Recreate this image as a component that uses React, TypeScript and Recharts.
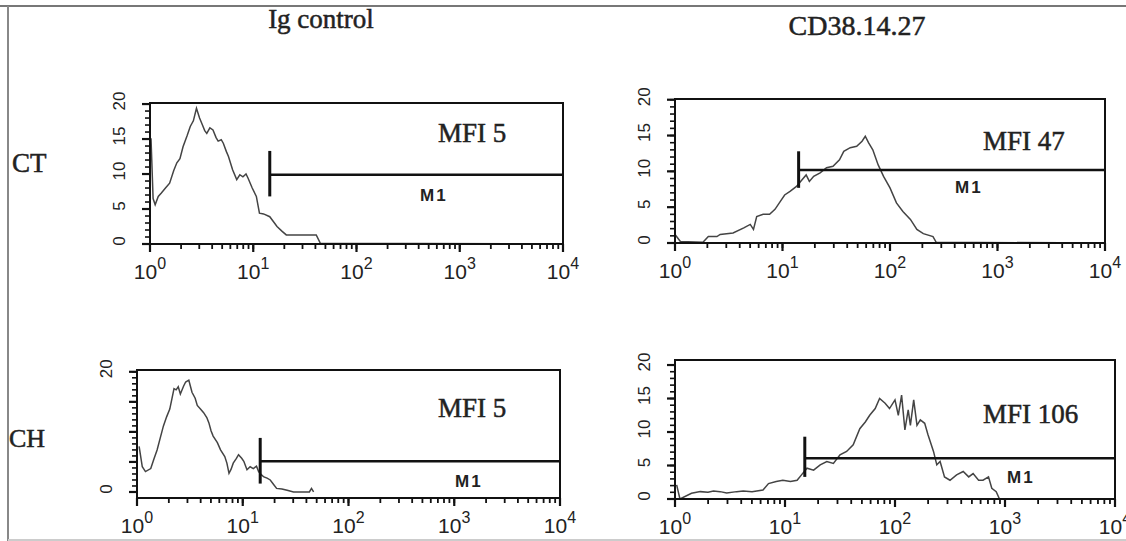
import React from 'react';
import { LineChart, Line, XAxis, YAxis, ReferenceArea, ReferenceLine } from 'recharts';

// x values are decade positions (log10 of fluorescence), y values are counts
const decades = [0, 1, 2, 3, 4];
const minorMultipliers = [2, 3, 4, 5, 6, 7, 8, 9];
const countLabels = [0, 5, 10, 15, 20];
const countLabelsSparse = [0, 20];

const ctIgLog = [0, 0.01, 0.03, 0.05, 0.08, 0.11, 0.15, 0.19, 0.23, 0.26, 0.29, 0.32, 0.36, 0.39, 0.42, 0.45, 0.48, 0.5, 0.53, 0.55, 0.58, 0.61, 0.64, 0.66, 0.69, 0.71, 0.74, 0.76, 0.8, 0.84, 0.87, 0.9, 0.93, 0.95, 0.99, 1.03, 1.06, 1.1, 1.16, 1.2, 1.23, 1.28, 1.32, 1.4, 1.5, 1.61, 1.65, 4];
const ctIgCount = [15, 15, 6.5, 5.6, 6.8, 7.3, 8.0, 8.7, 10.5, 11.6, 12.2, 13.9, 15.5, 16.8, 17.6, 19.4, 18.0, 17.3, 16.2, 15.8, 16.6, 16.3, 15.2, 14.7, 14.9, 14.4, 13.2, 12.5, 10.6, 9.2, 9.9, 9.6, 10.0, 9.4, 8.0, 6.8, 4.4, 4.3, 3.9, 3.1, 2.5, 1.8, 1.3, 1.3, 1.3, 1.3, 0.1, 0];

const ctCdLog = [0, 0.05, 0.26, 0.31, 0.39, 0.42, 0.54, 0.64, 0.7, 0.73, 0.76, 0.82, 0.88, 0.93, 0.98, 1.02, 1.07, 1.13, 1.18, 1.22, 1.25, 1.29, 1.35, 1.41, 1.47, 1.53, 1.57, 1.63, 1.69, 1.74, 1.77, 1.8, 1.84, 1.89, 1.94, 2.0, 2.06, 2.12, 2.19, 2.25, 2.31, 2.4, 2.43, 4];
const ctCdCount = [1.2, 0.2, 0.1, 0.9, 0.9, 1.2, 1.4, 2.1, 2.6, 1.9, 3.7, 4.0, 4.0, 4.7, 5.8, 6.7, 7.2, 7.9, 8.8, 9.5, 8.6, 9.3, 9.8, 10.5, 10.7, 11.6, 12.8, 13.3, 13.5, 14.2, 14.9, 14.0, 13.0, 10.9, 9.3, 7.7, 5.6, 4.4, 3.3, 1.9, 1.3, 0.9, 0.1, 0];

const chIgLog = [0.02, 0.05, 0.08, 0.13, 0.16, 0.19, 0.22, 0.25, 0.28, 0.31, 0.33, 0.35, 0.37, 0.39, 0.41, 0.44, 0.46, 0.49, 0.52, 0.55, 0.57, 0.6, 0.63, 0.66, 0.68, 0.7, 0.72, 0.76, 0.79, 0.83, 0.85, 0.87, 0.89, 0.91, 0.94, 0.96, 0.99, 1.01, 1.04, 1.07, 1.1, 1.13, 1.15, 1.18, 1.2, 1.23, 1.26, 1.29, 1.32, 1.37, 1.42, 1.48, 1.63, 1.65, 1.67];
const chIgCount = [7.6, 4.2, 3.4, 3.9, 5.5, 7.0, 9.0, 11.0, 12.5, 13.8, 15.5, 17.2, 17.0, 17.5, 16.3, 17.6, 18.3, 18.6, 16.6, 15.6, 14.4, 13.8, 13.2, 12.4, 11.5, 10.2, 9.3, 8.2, 7.0, 5.9, 4.8, 3.1, 3.8, 4.8, 5.6, 6.2, 5.6, 5.1, 3.7, 4.2, 3.9, 4.3, 3.4, 2.8, 2.5, 2.3, 2.0, 1.3, 0.6, 0.5, 0.3, 0, 0, 0.6, 0];

const chCdLog = [0.015, 0.045, 0.15, 0.23, 0.3, 0.35, 0.41, 0.47, 0.56, 0.62, 0.7, 0.8, 0.85, 0.92, 0.98, 1.05, 1.11, 1.15, 1.2, 1.26, 1.32, 1.38, 1.44, 1.5, 1.56, 1.62, 1.68, 1.73, 1.77, 1.82, 1.86, 1.91, 1.95, 2.0, 2.03, 2.06, 2.09, 2.12, 2.14, 2.17, 2.2, 2.23, 2.27, 2.3, 2.35, 2.38, 2.41, 2.45, 2.5, 2.56, 2.62, 2.67, 2.71, 2.76, 2.8, 2.85, 2.88, 2.92, 2.95, 4];
const chCdCount = [2.1, 0, 0.85, 1.1, 1.0, 1.2, 1.1, 0.9, 1.1, 1.2, 1.1, 1.35, 2.3, 2.6, 2.8, 2.6, 2.8, 3.6, 4.6, 4.3, 5.1, 5.6, 5.3, 6.6, 7.1, 8.1, 10.5, 11.5, 12.5, 13.5, 15.0, 14.3, 13.5, 14.8, 12.5, 15.5, 10.3, 13.3, 11.0, 14.8, 11.0, 11.8, 11.3, 9.6, 7.1, 5.1, 5.6, 3.3, 2.8, 3.6, 4.1, 3.3, 3.8, 2.8, 2.8, 3.3, 1.6, 1.1, 0, 0];

// M1 gate: start (decades), level, bar low/high (counts)
const gateStart = [1.16, 1.15, 1.165, 1.18];
const gateLevel = [9.9, 10.2, 5.1, 6.1];
const gateLow = [6.8, 7.7, 1.4, 3.3];
const gateHigh = [13.3, 12.8, 9.0, 9.3];
const mfiValues = [5, 47, 5, 106];

const rowLabels = ['CT', 'CH'];
const columnTitles = ['Ig control', 'CD38.14.27'];

const toRows = (xs: number[], ys: number[]) => xs.map((x, i) => ({ x, v: ys[i] }));

const series = [
  toRows(ctIgLog, ctIgCount),
  toRows(ctCdLog, ctCdCount),
  toRows(chIgLog, chIgCount),
  toRows(chCdLog, chCdCount),
];

const panels = [
  { left: 150, top: 103, w: 413, h: 141, yDomain: [0, 20.15], labels: countLabels },
  { left: 675, top: 99, w: 430, h: 144, yDomain: [0, 20.1], labels: countLabels },
  { left: 137, top: 370, w: 423, h: 128, yDomain: [-1, 20.3], labels: countLabelsSparse },
  { left: 675, top: 360, w: 440, h: 139, yDomain: [0, 20.75], labels: countLabels },
];

const xTicks = [
  ...decades,
  ...decades.slice(0, 4).flatMap((d) => minorMultipliers.map((m) => d + Math.log10(m))),
];
const yTicks = Array.from({ length: 21 }, (_, i) => i);

const SANS = '"Liberation Sans", Arial, sans-serif';
const SERIF = '"Liberation Serif", "Times New Roman", serif';
const PAD = 20;
const TICK = 5;

// recharts draws every tick line (TICK px); props y/x are the outer end of that line
const XTick = (props: any) => {
  const { x, y, payload } = props;
  if (!decades.includes(payload.value)) return <g />;
  return (
    <g>
      <line x1={x} x2={x} y1={y - TICK} y2={y + 3} stroke="#111" strokeWidth={2.2} />
      <text x={x} y={y + 30} textAnchor="middle" fontFamily={SANS} fontSize={21} fill="#222">
        10
        <tspan dy={-10} fontSize={16}>{payload.value}</tspan>
      </text>
    </g>
  );
};

const makeYTick = (labels: number[]) => (props: any) => {
  const { x, y, payload } = props;
  const major = payload.value % 5 === 0;
  return (
    <g>
      {major && <line x1={x - 3} x2={x + TICK} y1={y} y2={y} stroke="#111" strokeWidth={2.2} />}
      {labels.includes(payload.value) && (
        <text
          transform={`translate(${x + TICK - 31},${y - 3}) rotate(-90)`}
          textAnchor="middle"
          dominantBaseline="central"
          fontFamily={SANS}
          fontSize={17}
          fill="#222"
        >
          {payload.value}
        </text>
      )}
    </g>
  );
};

function Histogram({ idx }: { idx: number }) {
  const p = panels[idx];
  const YTick = makeYTick(p.labels);
  return (
    <div style={{ position: 'absolute', left: p.left - 60, top: p.top - PAD }}>
      <LineChart
        width={p.w + 80}
        height={p.h + PAD + 50}
        data={series[idx]}
        margin={{ top: PAD, right: 20, left: 0, bottom: 0 }}
      >
        <XAxis
          dataKey="x"
          type="number"
          domain={[0, 4]}
          ticks={xTicks}
          interval={0}
          height={50}
          axisLine={{ stroke: '#111', strokeWidth: 2 }}
          tickLine={{ stroke: '#111', strokeWidth: 1.8 }}
          tickSize={TICK}
          tickMargin={0}
          tick={XTick}
          allowDataOverflow
        />
        <YAxis
          type="number"
          domain={p.yDomain}
          ticks={yTicks}
          interval={0}
          width={60}
          axisLine={{ stroke: '#111', strokeWidth: 2 }}
          tickLine={{ stroke: '#111', strokeWidth: 1.6 }}
          tickSize={TICK}
          tickMargin={0}
          tick={YTick}
          allowDataOverflow
        />
        <ReferenceArea x1={0} x2={4} y1={p.yDomain[0]} y2={p.yDomain[1]} fill="none" stroke="#111" strokeWidth={2} />
        <Line
          dataKey="v"
          type="linear"
          stroke="#444"
          strokeWidth={1.5}
          dot={false}
          isAnimationActive={false}
        />
        <ReferenceLine
          segment={[{ x: gateStart[idx], y: gateLevel[idx] }, { x: 4, y: gateLevel[idx] }]}
          stroke="#111"
          strokeWidth={2.5}
        />
        <ReferenceLine
          segment={[{ x: gateStart[idx], y: gateLow[idx] }, { x: gateStart[idx], y: gateHigh[idx] }]}
          stroke="#111"
          strokeWidth={3}
        />
      </LineChart>
    </div>
  );
}

// text placements (baseline coordinates)
const mfiPos = [
  { x: 438, y: 142 },
  { x: 983, y: 150 },
  { x: 438, y: 417 },
  { x: 983, y: 423 },
];
const m1Pos = [
  { x: 420, y: 201 },
  { x: 955, y: 193 },
  { x: 455, y: 487 },
  { x: 1007, y: 483 },
];

const heavy = { stroke: '#222', strokeWidth: 0.5 };

export default function App() {
  return (
    <div
      style={{
        position: 'absolute',
        left: 0,
        top: 0,
        width: 1126,
        height: 541,
        background: '#fff',
        overflow: 'hidden',
      }}
    >
      {[0, 1, 2, 3].map((i) => (
        <Histogram key={i} idx={i} />
      ))}
      <svg width={1126} height={541} style={{ position: 'absolute', left: 0, top: 0, pointerEvents: 'none' }}>
        <line x1={0} x2={1126} y1={6} y2={6} stroke="#777" strokeWidth={2} />
        <line x1={8} x2={8} y1={6} y2={541} stroke="#888" strokeWidth={2} />
        <line x1={8} x2={1126} y1={540} y2={540} stroke="#ccc" strokeWidth={2} />
        <text x={321} y={28} textAnchor="middle" fontFamily={SERIF} fontSize={27} fill="#222" {...heavy}>
          {columnTitles[0]}
        </text>
        <text x={857} y={35} textAnchor="middle" fontFamily={SERIF} fontSize={28} fill="#222" {...heavy}>
          {columnTitles[1]}
        </text>
        <text x={12} y={172} fontFamily={SERIF} fontSize={27} fill="#222" {...heavy}>
          {rowLabels[0]}
        </text>
        <text x={9} y={447} fontFamily={SERIF} fontSize={26} fill="#222" {...heavy}>
          {rowLabels[1]}
        </text>
        {mfiValues.map((m, i) => (
          <text key={'mfi' + i} x={mfiPos[i].x} y={mfiPos[i].y} fontFamily={SERIF} fontSize={27} fill="#222" {...heavy}>
            MFI {m}
          </text>
        ))}
        {m1Pos.map((p, i) => (
          <text
            key={'m1' + i}
            x={p.x}
            y={p.y}
            fontFamily={SANS}
            fontWeight="bold"
            fontSize={17}
            letterSpacing={2}
            fill="#222"
          >
            M1
          </text>
        ))}
      </svg>
    </div>
  );
}
